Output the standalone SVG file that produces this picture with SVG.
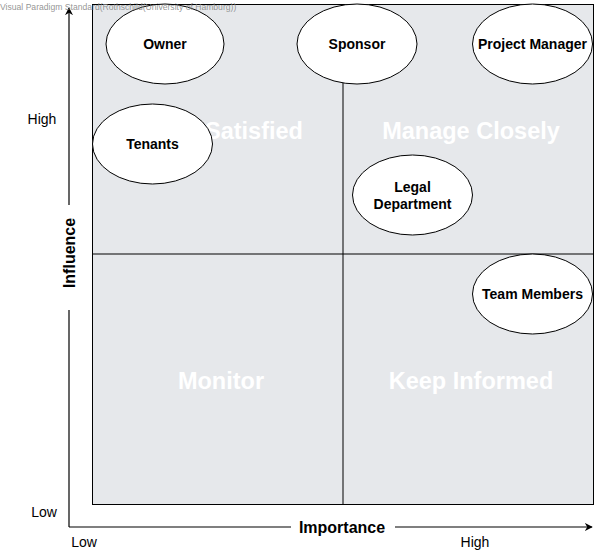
<svg xmlns="http://www.w3.org/2000/svg" width="601" height="559" viewBox="0 0 601 559">
  <defs>
    <style>
      .bg { fill: #ffffff; }
      .grid { fill: #e6e8eb; stroke: #000000; stroke-width: 1; }
      .divider { stroke: #000000; stroke-width: 1; fill: none; }
      .quad { font-family: "Liberation Sans", Arial, sans-serif; font-size: 23.5px; font-weight: bold; fill: #ffffff; text-anchor: middle; dominant-baseline: central; }
      .node ellipse { fill: #ffffff; stroke: #000000; stroke-width: 1; }
      .node text { font-family: "Liberation Sans", Arial, sans-serif; font-size: 14px; font-weight: bold; fill: #000000; text-anchor: middle; dominant-baseline: central; }
      .axis { stroke: #000000; stroke-width: 1.2; fill: none; }
      .axislabel { font-family: "Liberation Sans", Arial, sans-serif; font-size: 16px; font-weight: bold; fill: #000000; text-anchor: middle; dominant-baseline: central; }
      .tick { font-family: "Liberation Sans", Arial, sans-serif; font-size: 14px; fill: #000000; text-anchor: middle; }
      .wm { font-family: "Liberation Sans", Arial, sans-serif; font-size: 8.6px; fill: #888888; fill-opacity: 0.9; }
    </style>
    <marker id="arrow" viewBox="0 0 10 10" refX="9" refY="5" markerWidth="8" markerHeight="8" markerUnits="userSpaceOnUse" orient="auto">
      <path d="M0,0 L10,5 L0,10 L3,5 Z" fill="#000000"/>
    </marker>
  </defs>

  <rect class="bg" x="0" y="0" width="601" height="559"/>

  <g id="matrix">
    <rect class="grid" x="92.5" y="4.5" width="501" height="500"/>
    <line class="divider" x1="343" y1="4.5" x2="343" y2="504.5"/>
    <line class="divider" x1="92.5" y1="254" x2="593.5" y2="254"/>
    <text class="quad" x="205" y="131" style="text-anchor: start">Satisfied</text>
    <text class="quad" x="471" y="131">Manage Closely</text>
    <text class="quad" x="221" y="381">Monitor</text>
    <text class="quad" x="471" y="381">Keep Informed</text>
  </g>

  <g id="connectors">
    <line class="axis" x1="69" y1="527" x2="291" y2="527"/>
    <line class="axis" x1="395" y1="527" x2="592" y2="527" marker-end="url(#arrow)"/>
    <line class="axis" x1="69" y1="527" x2="69" y2="310"/>
    <line class="axis" x1="69" y1="205" x2="69" y2="8" marker-end="url(#arrow)"/>
  </g>

  <g id="axis-labels">
    <text class="axislabel" x="342" y="527">Importance</text>
    <text class="axislabel" transform="translate(69,253) rotate(-90)" x="0" y="0">Influence</text>
    <text class="tick" x="42" y="124">High</text>
    <text class="tick" x="44" y="517">Low</text>
    <text class="tick" x="84" y="547">Low</text>
    <text class="tick" x="475" y="547">High</text>
  </g>

  <g id="owner" class="node">
    <ellipse cx="165" cy="44" rx="59" ry="40"/>
    <text x="165" y="44">Owner</text>
  </g>
  <g id="sponsor" class="node">
    <ellipse cx="357" cy="44" rx="60" ry="40"/>
    <text x="357" y="44">Sponsor</text>
  </g>
  <g id="project-manager" class="node">
    <ellipse cx="532.5" cy="44" rx="60" ry="40"/>
    <text x="532.5" y="44">Project Manager</text>
  </g>
  <g id="tenants" class="node">
    <ellipse cx="152.5" cy="144" rx="60" ry="40"/>
    <text x="152.5" y="144">Tenants</text>
  </g>
  <g id="legal-department" class="node">
    <ellipse cx="412.5" cy="195" rx="60" ry="40"/>
    <text x="412.5" y="187">Legal</text>
    <text x="412.5" y="204">Department</text>
  </g>
  <g id="team-members" class="node">
    <ellipse cx="532.5" cy="294" rx="60" ry="40"/>
    <text x="532.5" y="294">Team Members</text>
  </g>

  <text class="wm" x="0" y="10">Visual Paradigm Standard(Rothschild(University of Hamburg))</text>
</svg>
